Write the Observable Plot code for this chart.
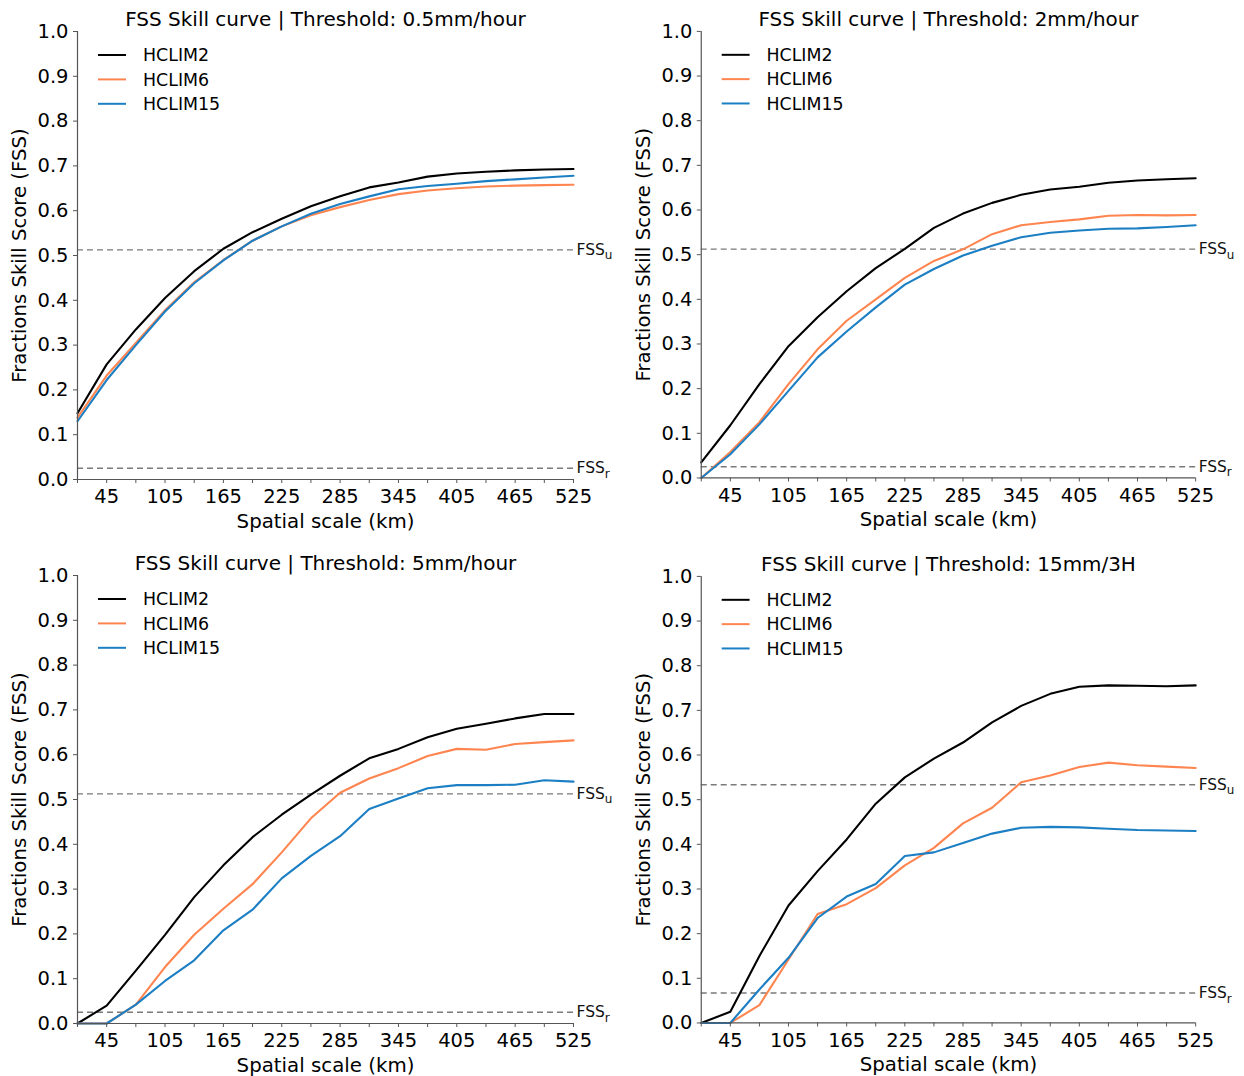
<!DOCTYPE html>
<html>
<head>
<meta charset="utf-8">
<script src="https://cdn.jsdelivr.net/npm/d3@7"></script>
<script src="https://cdn.jsdelivr.net/npm/@observablehq/plot@0.6"></script>
<style>
  html, body { margin: 0; padding: 0; background: #fff; }
  #wrap { position: relative; width: 1244px; height: 1076px; overflow: hidden; background: #fff; }
  .panel { position: absolute; }
</style>
</head>
<body>
<div id="wrap"></div>
<script>
// ---- Data ----
const scales = [15, 45, 75, 105, 135, 165, 195, 225, 255, 285, 315, 345, 375, 405, 435, 465, 495, 525];
const seriesNames = ["HCLIM2", "HCLIM6", "HCLIM15"];
const seriesColors = ["#000000", "#ff8550", "#1c7fc4"];
const xTickValues = [15, 45, 75, 105, 135, 165, 195, 225, 255, 285, 315, 345, 375, 405, 435, 465, 495, 525];
const xTickLabels = [45, 105, 165, 225, 285, 345, 405, 465, 525];
const yTickValues = [0, 0.1, 0.2, 0.3, 0.4, 0.5, 0.6, 0.7, 0.8, 0.9, 1.0];

const titles = [
  "FSS Skill curve | Threshold: 0.5mm/hour",
  "FSS Skill curve | Threshold: 2mm/hour",
  "FSS Skill curve | Threshold: 5mm/hour",
  "FSS Skill curve | Threshold: 15mm/3H"
];
const fssU = [0.5125, 0.5125, 0.5125, 0.5335];
const fssR = [0.025, 0.025, 0.025, 0.067];

// Panel 1: 0.5mm/hour
const p1_hclim2  = [0.148, 0.257, 0.335, 0.405, 0.465, 0.515, 0.552, 0.582, 0.610, 0.632, 0.652, 0.663, 0.676, 0.683, 0.687, 0.690, 0.692, 0.693];
const p1_hclim6  = [0.138, 0.232, 0.305, 0.378, 0.440, 0.490, 0.533, 0.565, 0.590, 0.608, 0.624, 0.637, 0.645, 0.650, 0.654, 0.656, 0.657, 0.658];
const p1_hclim15 = [0.130, 0.222, 0.300, 0.375, 0.438, 0.489, 0.533, 0.565, 0.593, 0.615, 0.632, 0.648, 0.655, 0.660, 0.666, 0.670, 0.674, 0.678];
// Panel 2: 2mm/hour
const p2_hclim2  = [0.035, 0.118, 0.210, 0.295, 0.360, 0.418, 0.470, 0.513, 0.560, 0.592, 0.616, 0.634, 0.646, 0.652, 0.661, 0.666, 0.669, 0.671];
const p2_hclim6  = [0.000, 0.058, 0.125, 0.210, 0.288, 0.352, 0.400, 0.448, 0.486, 0.512, 0.546, 0.566, 0.573, 0.579, 0.587, 0.589, 0.588, 0.589];
const p2_hclim15 = [0.000, 0.053, 0.120, 0.195, 0.270, 0.328, 0.382, 0.433, 0.468, 0.498, 0.520, 0.539, 0.549, 0.554, 0.558, 0.559, 0.562, 0.566];
// Panel 3: 5mm/hour
const p3_hclim2  = [0.000, 0.040, 0.118, 0.198, 0.282, 0.353, 0.416, 0.466, 0.511, 0.553, 0.592, 0.613, 0.639, 0.658, 0.669, 0.681, 0.691, 0.691];
const p3_hclim6  = [0.000, 0.000, 0.042, 0.126, 0.198, 0.256, 0.311, 0.382, 0.458, 0.515, 0.547, 0.570, 0.597, 0.613, 0.611, 0.624, 0.628, 0.632];
const p3_hclim15 = [0.000, 0.000, 0.042, 0.095, 0.141, 0.208, 0.254, 0.324, 0.374, 0.418, 0.479, 0.502, 0.525, 0.532, 0.532, 0.533, 0.543, 0.540];
// Panel 4: 15mm/3H
const p4_hclim2  = [0.000, 0.025, 0.150, 0.263, 0.340, 0.411, 0.491, 0.550, 0.592, 0.628, 0.673, 0.710, 0.737, 0.753, 0.756, 0.755, 0.754, 0.756];
const p4_hclim6  = [0.000, 0.000, 0.040, 0.142, 0.244, 0.266, 0.302, 0.353, 0.392, 0.447, 0.482, 0.539, 0.554, 0.573, 0.583, 0.577, 0.574, 0.571];
const p4_hclim15 = [0.000, 0.000, 0.075, 0.146, 0.235, 0.283, 0.311, 0.374, 0.382, 0.403, 0.424, 0.437, 0.439, 0.438, 0.435, 0.432, 0.431, 0.430];

const panelSeries = [
  [p1_hclim2, p1_hclim6, p1_hclim15],
  [p2_hclim2, p2_hclim6, p2_hclim15],
  [p3_hclim2, p3_hclim6, p3_hclim15],
  [p4_hclim2, p4_hclim6, p4_hclim15]
];
const panelPos = [[0, 0], [624, 0], [0, 544], [624, 545]];

const W = 622, H = 534;
const FONT = "DejaVu Sans, sans-serif";

function legendMark(index, scales_, values, dims) {
  const g = d3.create("svg:g");
  const x0 = dims.marginLeft + 21;
  const y0 = dims.marginTop + 24;
  seriesNames.forEach((name, i) => {
    const y = y0 + i * 24.4;
    g.append("line")
      .attr("x1", x0).attr("x2", x0 + 28)
      .attr("y1", y).attr("y2", y)
      .attr("stroke", seriesColors[i]).attr("stroke-width", 2);
    g.append("text")
      .attr("x", x0 + 45).attr("y", y)
      .attr("dy", "0.36em")
      .attr("text-anchor", "start")
      .attr("font-size", 17.4)
      .attr("fill", "black")
      .text(name);
  });
  return g.node();
}

const wrap = document.getElementById("wrap");

panelSeries.forEach((series, p) => {
  const rows = [];
  series.forEach((vals, s) => {
    vals.forEach((v, i) => rows.push({scale: scales[i], fss: v, model: seriesNames[s]}));
  });

  const chart = Plot.plot({
    width: W,
    height: H,
    marginLeft: 77,
    marginRight: 49,
    marginTop: 31,
    marginBottom: 55,
    style: {fontFamily: FONT, fontSize: "19.5px", color: "black", background: "white", overflow: "visible"},
    x: {domain: [15, 525]},
    y: {domain: [0, 1]},
    color: {domain: seriesNames, range: seriesColors},
    marks: [
      Plot.ruleY([fssU[p], fssR[p]], {stroke: "#7a7a7a", strokeWidth: 1.4, strokeDasharray: "6,4"}),
      Plot.line(rows, {x: "scale", y: "fss", z: "model", stroke: "model", strokeWidth: 2.1}),
      Plot.axisX({
        ticks: xTickValues,
        tickFormat: d => xTickLabels.includes(d) ? String(d) : "",
        tickSize: 4, tickPadding: 6, fontSize: 19.5, stroke: "#555", label: null
      }),
      Plot.axisY({
        ticks: yTickValues,
        tickFormat: d3.format(".1f"),
        tickSize: 4, tickPadding: 5, fontSize: 19.5, stroke: "#555", label: null
      }),
      Plot.ruleX([15], {stroke: "#555", strokeWidth: 1.2}),
      Plot.ruleY([0], {stroke: "#555", strokeWidth: 1.2}),
      Plot.text([fssU[p], fssR[p]], {
        x: 525, y: d => d,
        text: (d, i) => i === 0 ? "FSS|u" : "FSS|r",
        textAnchor: "start", dx: 3, fontSize: 15.5, fill: "#111"
      }),
      Plot.text([titles[p]], {frameAnchor: "top", dy: -12, lineAnchor: "middle", textAnchor: "middle", fontSize: 20, fill: "black"}),
      Plot.text(["Spatial scale (km)"], {frameAnchor: "bottom", dy: 42, lineAnchor: "middle", textAnchor: "middle", fontSize: 19.8, fill: "black"}),
      Plot.text(["Fractions Skill Score (FSS)"], {frameAnchor: "left", dx: -58, rotate: -90, lineAnchor: "middle", textAnchor: "middle", fontSize: 19.7, fill: "black"}),
      legendMark
    ]
  });

  // Subscripts for FSS labels
  d3.select(chart).selectAll("text").each(function() {
    const t = this.textContent;
    const m = /^FSS\|(.)$/.exec(t);
    if (m) {
      const sel = d3.select(this);
      sel.text("FSS");
      sel.append("tspan").attr("dy", "0.38em").attr("font-size", 12).text(m[1]);
    }
  });

  const div = document.createElement("div");
  div.className = "panel";
  div.style.left = panelPos[p][0] + "px";
  div.style.top = panelPos[p][1] + "px";
  div.appendChild(chart);
  wrap.appendChild(div);
});
</script>
</body>
</html>
